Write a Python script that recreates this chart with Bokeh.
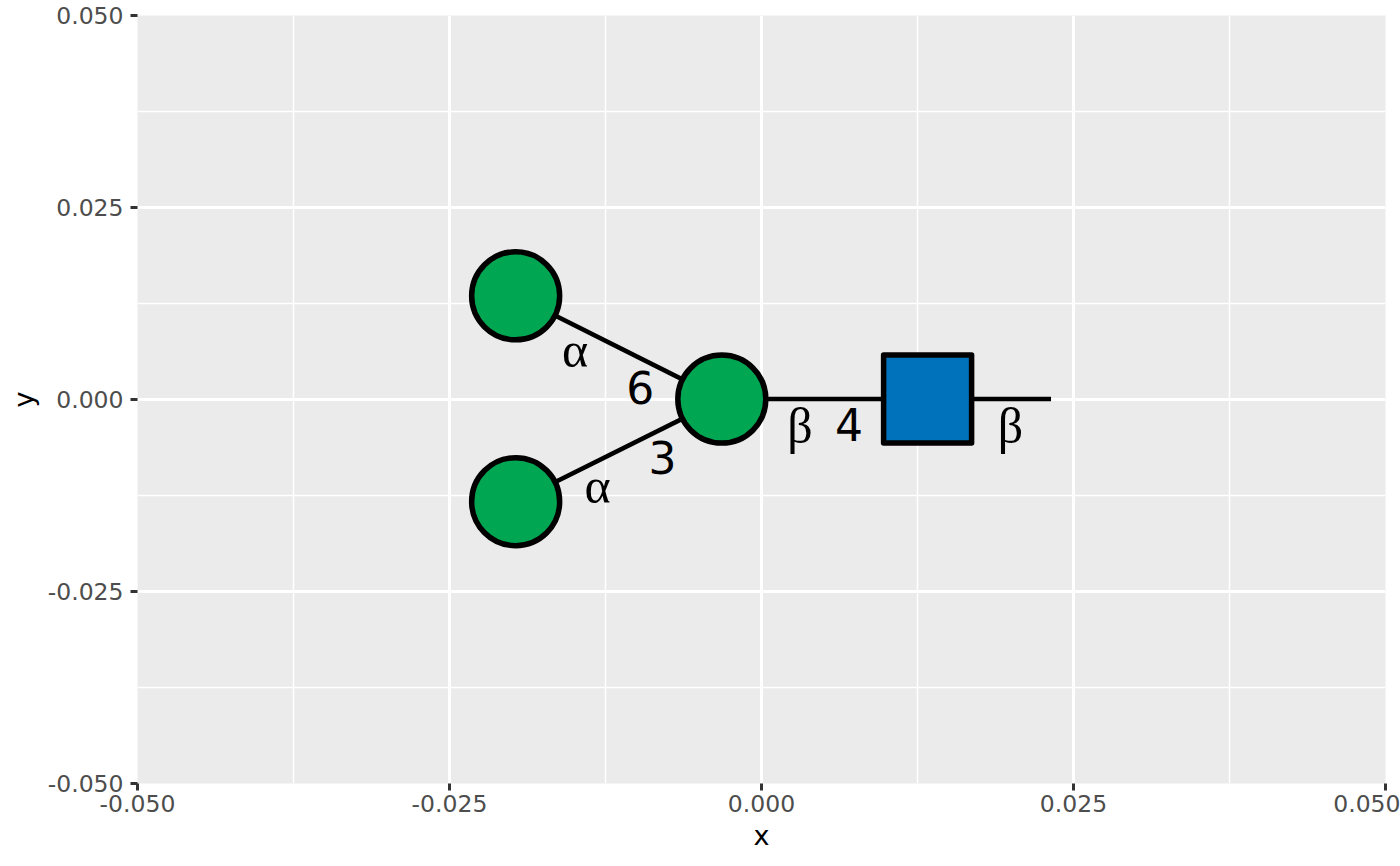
from bokeh.plotting import figure
from bokeh.models import FixedTicker, Range1d
from bokeh.core.properties import value
from bokeh.embed import file_html
from bokeh.resources import INLINE

# Data
major_ticks = [-0.05, -0.025, 0.0, 0.025, 0.05]
minor_ticks = [-0.0375, -0.0125, 0.0125, 0.0375]
tick_labels = ["-0.050", "-0.025", "0.000", "0.025", "0.050"]

edge_x0 = [-0.01970, -0.01970, -0.00318, 0.01331]
edge_y0 = [0.0135, -0.0133, 0.00005, 0.00005]
edge_x1 = [-0.00318, -0.00318, 0.01331, 0.02320]
edge_y1 = [0.00005, 0.00005, 0.00005, 0.00005]

circle_x = [-0.01970, -0.01970, -0.00318]
circle_y = [0.0135, -0.0133, 0.00005]
square_x = [0.01331]
square_y = [0.00005]

greek_text = ["α", "α", "β", "β"]
greek_x = [-0.01493, -0.01313, 0.00309, 0.01994]
greek_y = [0.00645, -0.01132, -0.00345, -0.00345]

digit_text = ["6", "3", "4"]
digit_x = [-0.00971, -0.00794, 0.00702]
digit_y = [0.00156, -0.00754, -0.00324]

p = figure(width=1400, height=860, output_backend="svg", toolbar_location=None,
           x_range=Range1d(-0.05, 0.05), y_range=Range1d(-0.05, 0.05),
           x_axis_label="x", y_axis_label="y",
           min_border_left=137, min_border_right=15, min_border_top=15, min_border_bottom=77)

p.background_fill_color = "#EBEBEB"
p.border_fill_color = "white"
p.outline_line_color = None

ticker = FixedTicker(ticks=major_ticks, minor_ticks=minor_ticks)
overrides = {t: l for t, l in zip(major_ticks, tick_labels)}
for ax in (p.xaxis[0], p.yaxis[0]):
    ax.ticker = ticker
    ax.major_label_overrides = overrides
    ax.axis_line_color = None
    ax.major_tick_line_color = "#333333"
    ax.major_tick_line_width = 3
    ax.major_tick_out = 7
    ax.major_tick_in = 0
    ax.minor_tick_out = 0
    ax.minor_tick_in = 0
    ax.major_label_text_color = "#4D4D4D"
    ax.major_label_text_font = "DejaVu Sans"
    ax.major_label_text_font_size = "23.5px"
    ax.axis_label_text_font = "DejaVu Sans"
    ax.axis_label_text_font_size = "27px"
    ax.axis_label_text_font_style = "normal"
    ax.axis_label_text_color = "black"
p.xaxis[0].major_label_standoff = 4
p.yaxis[0].major_label_standoff = 7
p.xaxis[0].axis_label_standoff = 5
p.yaxis[0].axis_label_standoff = 6

for g in (p.xgrid[0], p.ygrid[0]):
    g.ticker = ticker
    g.grid_line_color = "white"
    g.grid_line_width = 3
    g.minor_grid_line_color = "white"
    g.minor_grid_line_width = 1.5

p.segment(edge_x0, edge_y0, edge_x1, edge_y1, line_color="black", line_width=4.5)
p.scatter(circle_x, circle_y, marker="circle", size=88, fill_color="#00A651",
          line_color="black", line_width=5.5)
p.scatter(square_x, square_y, marker="square", size=88, fill_color="#0072BC",
          line_color="black", line_width=5.5, line_join="round")

p.text(digit_x, digit_y, text=digit_text, text_font=value("DejaVu Sans"), text_font_size="44px",
       text_align="center", text_baseline="middle", text_color="black")
p.text(greek_x, greek_y, text=greek_text, text_font=value("Liberation Serif"), text_font_size="50px",
       text_align="center", text_baseline="middle", text_color="black")

open("out.html", "w").write(file_html(p, INLINE))
